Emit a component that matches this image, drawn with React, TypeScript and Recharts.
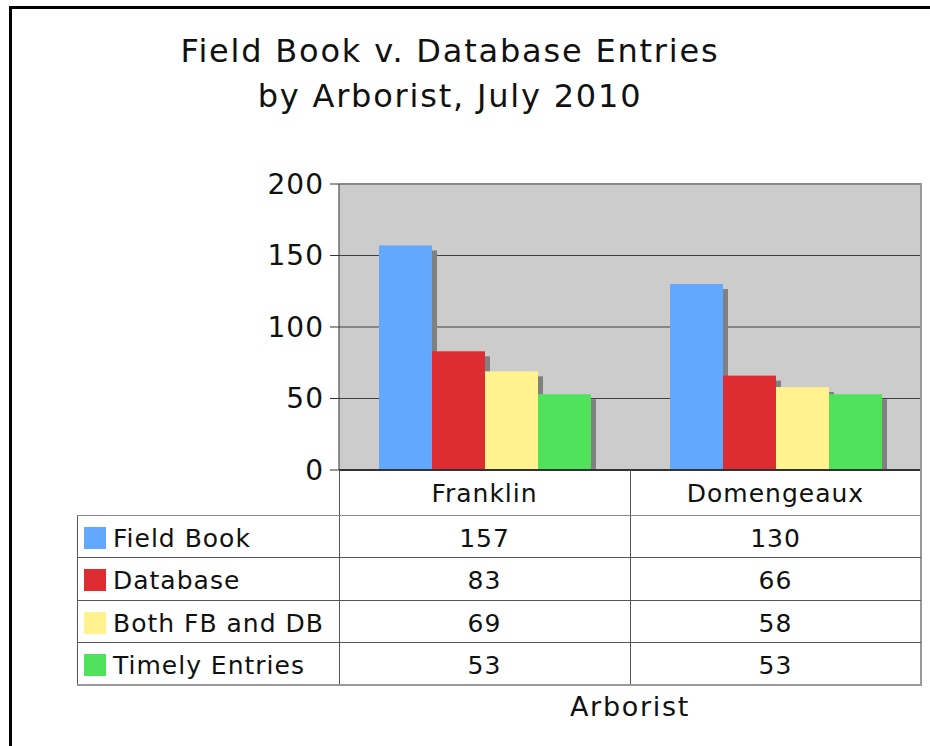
import React from 'react';
import { BarChart, Bar, XAxis, YAxis, CartesianGrid, ReferenceLine } from 'recharts';

const arborists = ['Franklin', 'Domengeaux'];
const seriesNames = ['Field Book', 'Database', 'Both FB and DB', 'Timely Entries'];
const fieldBook = [157, 130];
const database = [83, 66];
const bothFbDb = [69, 58];
const timely = [53, 53];
const yTicks = [0, 50, 100, 150, 200];

const colors = ['#62a8ff', '#dd2c32', '#fff28f', '#4fe25a'];
const keys = ['fieldBook', 'database', 'both', 'timely'];
const seriesValues = [fieldBook, database, bothFbDb, timely];

const data = arborists.map((name, i) => ({
  name,
  fieldBook: fieldBook[i],
  database: database[i],
  both: bothFbDb[i],
  timely: timely[i],
}));

const W = 930;
const H = 746;
const PLOT_LEFT = 339;
const PLOT_TOP = 184;
const PLOT_RIGHT = 921;
const PLOT_BOTTOM = 470;
const Y_AXIS_W = 60;
const ROW_H = 42.3;
const HEADER_H = 45;
const FONT = '"DejaVu Sans", Verdana, sans-serif';
const LINE = '#555';

const ShadowBar = (props: any) => {
  const { x, y, width, height, fill } = props;
  if (!height || height <= 0) return null;
  return (
    <g>
      <rect x={x + 5} y={y + 5} width={width} height={Math.max(height - 5, 0)} fill="#808080" />
      <rect x={x} y={y} width={width} height={height} fill={fill} />
    </g>
  );
};

function DataTable() {
  const bandW = (PLOT_RIGHT - PLOT_LEFT) / arborists.length;
  const tableBottom = PLOT_BOTTOM + HEADER_H + ROW_H * seriesNames.length;
  const txt: React.CSSProperties = {
    position: 'absolute',
    fontSize: 25,
    letterSpacing: 1,
    color: '#111',
    whiteSpace: 'nowrap',
    lineHeight: '42px',
  };
  return (
    <>
      {/* vertical lines */}
      {[0, 1, 2].map(i => (
        <div
          key={'v' + i}
          style={{
            position: 'absolute',
            left: PLOT_LEFT + bandW * i - (i === 2 ? 1 : 0),
            top: PLOT_BOTTOM,
            width: i === 2 ? 2 : 1,
            height: tableBottom - PLOT_BOTTOM,
            background: i === 2 ? '#999' : LINE,
          }}
        />
      ))}
      <div style={{ position: 'absolute', left: 77, top: PLOT_BOTTOM + HEADER_H, width: 1, height: ROW_H * seriesNames.length, background: LINE }} />
      {/* horizontal lines */}
      {seriesNames.map((_, r) => (
        <div
          key={'h' + r}
          style={{
            position: 'absolute',
            left: 77,
            top: PLOT_BOTTOM + HEADER_H + ROW_H * r,
            width: PLOT_RIGHT - 77,
            height: 1,
            background: r === 0 ? '#888' : LINE,
          }}
        />
      ))}
      <div style={{ position: 'absolute', left: 77, top: tableBottom, width: PLOT_RIGHT - 77 + 1, height: 2, background: '#999' }} />
      {/* header */}
      {arborists.map((name, i) => (
        <div
          key={'c' + i}
          style={{ ...txt, left: PLOT_LEFT + bandW * i, width: bandW, textAlign: 'center', top: PLOT_BOTTOM + 2, lineHeight: '44px' }}
        >
          {name}
        </div>
      ))}
      {/* rows */}
      {seriesNames.map((s, r) => {
        const top = PLOT_BOTTOM + HEADER_H + ROW_H * r;
        return (
          <React.Fragment key={s}>
            <div style={{ position: 'absolute', left: 84, top: top + 12, width: 22, height: 22, background: colors[r] }} />
            <div style={{ ...txt, left: 113, top: top + 3 }}>{s}</div>
            {seriesValues[r].map((v, i) => (
              <div key={i} style={{ ...txt, left: PLOT_LEFT + bandW * i, width: bandW, textAlign: 'center', top: top + 3 }}>
                {v}
              </div>
            ))}
          </React.Fragment>
        );
      })}
      <div style={{ ...txt, fontSize: 27, letterSpacing: 1.7, left: PLOT_LEFT, width: PLOT_RIGHT - PLOT_LEFT, textAlign: 'center', top: 686 }}>
        Arborist
      </div>
    </>
  );
}

export default function App() {
  return (
    <div style={{ position: 'absolute', left: 0, top: 0, width: W, height: H, background: '#fff', fontFamily: FONT, overflow: 'hidden' }}>
      <div style={{ position: 'absolute', left: 9, top: 6, width: W, height: H, borderTop: '3px solid #000', borderLeft: '3px solid #000' }} />
      <div style={{ position: 'absolute', left: 0, top: 29, width: 900, textAlign: 'center', fontSize: 32, letterSpacing: 1.8, lineHeight: '45px', color: '#111' }}>
        Field Book v. Database Entries
        <br />
        by Arborist, July 2010
      </div>
      <div style={{ position: 'absolute', left: 0, top: 0 }}>
        <BarChart
          width={W}
          height={H}
          data={data}
          barSize={53}
          barGap={0}
          margin={{ top: PLOT_TOP, left: PLOT_LEFT - Y_AXIS_W, right: W - PLOT_RIGHT, bottom: H - PLOT_BOTTOM }}
        >
          <CartesianGrid vertical={false} fill="#cccccc" stroke="#404040" strokeOpacity={1} />
          <XAxis dataKey="name" hide />
          <YAxis
            width={Y_AXIS_W}
            domain={[0, 200]}
            ticks={yTicks}
            interval={0}
            tickSize={9}
            tickMargin={6}
            tick={{ fontSize: 28, fill: '#111', fontFamily: FONT, letterSpacing: 1 }}
            axisLine={{ stroke: '#333', strokeWidth: 1 }}
            tickLine={{ stroke: '#333' }}
          />
          {keys.map((k, i) => (
            <Bar key={k} dataKey={k} name={seriesNames[i]} fill={colors[i]} shape={ShadowBar} isAnimationActive={false} />
          ))}
          <ReferenceLine y={200} stroke="#888" strokeWidth={2} />
          <ReferenceLine y={0} stroke="#333" strokeWidth={2} />
        </BarChart>
      </div>
      <div style={{ position: 'absolute', left: PLOT_RIGHT - 1, top: PLOT_TOP - 1, width: 2, height: PLOT_BOTTOM - PLOT_TOP + 1, background: '#999' }} />
      <DataTable />
    </div>
  );
}
